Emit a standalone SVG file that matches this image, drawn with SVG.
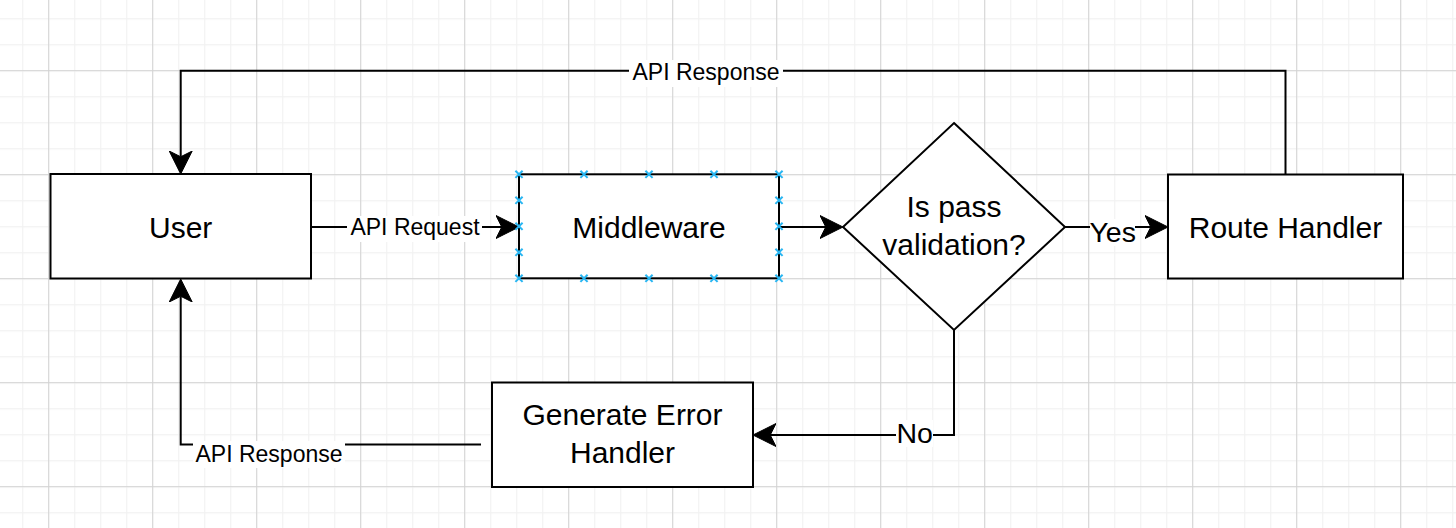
<svg xmlns="http://www.w3.org/2000/svg" width="1456" height="528" viewBox="0 0 1456 528">
  <defs>
    <style>
      .node { fill: #ffffff; stroke: #000000; stroke-width: 2; }
      .edge { fill: none; stroke: #000000; stroke-width: 2; }
      .nt { font-family: "Liberation Sans", Arial, Helvetica, sans-serif; font-size: 30px; fill: #000000; text-anchor: middle; }
      .lbl { font-family: "Liberation Sans", Arial, Helvetica, sans-serif; font-size: 23px; fill: #000000; text-anchor: middle; }
      .lblb { font-family: "Liberation Sans", Arial, Helvetica, sans-serif; font-size: 28.5px; fill: #000000; text-anchor: middle; }
      .lblbg { fill: #ffffff; stroke: none; }
      .cp { stroke: #29b6f2; stroke-width: 2; fill: none; }
    </style>
    <pattern id="minor" x="22.2" y="18.2" width="26" height="26" patternUnits="userSpaceOnUse">
      <path d="M0.5,0 V26 M0,0.5 H26" stroke="#f1f1f1" stroke-width="1.3" fill="none"/>
    </pattern>
    <pattern id="major" x="48.2" y="70.2" width="104" height="104" patternUnits="userSpaceOnUse">
      <path d="M0.5,0 V104 M0,0.5 H104" stroke="#d3d3d3" stroke-width="1" fill="none"/>
    </pattern>
    <marker id="arr" viewBox="0 -12 24 24" markerWidth="24" markerHeight="24" refX="5.75" refY="0" orient="auto" markerUnits="userSpaceOnUse">
      <path d="M23,0 L0,-11.5 L5.75,0 L0,11.5 Z" fill="#000000" stroke="#000000" stroke-width="1"/>
    </marker>
    <path id="x" d="M-3.6,-3.6 L3.6,3.6 M-3.6,3.6 L3.6,-3.6"/>
  </defs>

  <rect x="0" y="0" width="1456" height="528" fill="#ffffff"/>
  <rect x="0" y="0" width="1456" height="528" fill="url(#minor)"/>
  <rect x="0" y="0" width="1456" height="528" fill="url(#major)"/>

  <g id="connectors">
    <path class="edge" d="M1285.5,174 V70.7 H180.7 V156.75" marker-end="url(#arr)"/>
    <path class="edge" d="M311,227 H501.75" marker-end="url(#arr)"/>
    <path class="edge" d="M779,227 H825.75" marker-end="url(#arr)"/>
    <path class="edge" d="M1065,227 H1150.75" marker-end="url(#arr)"/>
    <path class="edge" d="M954,330 V435 H770.25" marker-end="url(#arr)"/>
    <path class="edge" d="M481,444.5 H180.7 V296.25" marker-end="url(#arr)"/>

    <g id="label-api-response-top">
      <rect class="lblbg" x="629" y="60" width="154" height="27"/>
      <text class="lbl" x="706" y="79.5">API Response</text>
    </g>
    <g id="label-api-request">
      <rect class="lblbg" x="347" y="216" width="135" height="26"/>
      <text class="lbl" x="415" y="235">API Request</text>
    </g>
    <g id="label-yes">
      <rect class="lblbg" x="1090" y="219" width="45" height="27"/>
      <text class="lblb" x="1112.7" y="241.7">Yes</text>
    </g>
    <g id="label-no">
      <rect class="lblbg" x="896" y="420" width="37" height="27"/>
      <text class="lblb" x="914.7" y="442.7">No</text>
    </g>
    <g id="label-api-response-bottom">
      <rect class="lblbg" x="193" y="441" width="152" height="27"/>
      <text class="lbl" x="269" y="461.7">API Response</text>
    </g>
  </g>

  <g id="node-user">
    <rect class="node" x="50.5" y="174" width="260.5" height="104.5"/>
    <text class="nt" x="180.7" y="238">User</text>
  </g>

  <g id="node-middleware">
    <rect class="node" x="519" y="174.3" width="260" height="104"/>
    <text class="nt" x="649" y="238">Middleware</text>
    <g class="cp">
      <use href="#x" x="519" y="174.3"/>
      <use href="#x" x="584" y="174.3"/>
      <use href="#x" x="649" y="174.3"/>
      <use href="#x" x="714" y="174.3"/>
      <use href="#x" x="779" y="174.3"/>
      <use href="#x" x="519" y="278.3"/>
      <use href="#x" x="584" y="278.3"/>
      <use href="#x" x="649" y="278.3"/>
      <use href="#x" x="714" y="278.3"/>
      <use href="#x" x="779" y="278.3"/>
      <use href="#x" x="519" y="200.3"/>
      <use href="#x" x="519" y="226.3"/>
      <use href="#x" x="519" y="252.3"/>
      <use href="#x" x="779" y="200.3"/>
      <use href="#x" x="779" y="226.3"/>
      <use href="#x" x="779" y="252.3"/>
    </g>
  </g>

  <g id="node-decision">
    <polygon class="node" points="954,123 1065,227 954,330 843,227"/>
    <text class="nt" x="954" y="217">Is pass</text>
    <text class="nt" x="954" y="255">validation?</text>
  </g>

  <g id="node-route-handler">
    <rect class="node" x="1168" y="174.5" width="235" height="104"/>
    <text class="nt" x="1285.5" y="238">Route Handler</text>
  </g>

  <g id="node-error-handler">
    <rect class="node" x="492" y="382.5" width="261" height="104.5"/>
    <text class="nt" x="622.5" y="425">Generate Error</text>
    <text class="nt" x="622.5" y="463">Handler</text>
  </g>
</svg>
